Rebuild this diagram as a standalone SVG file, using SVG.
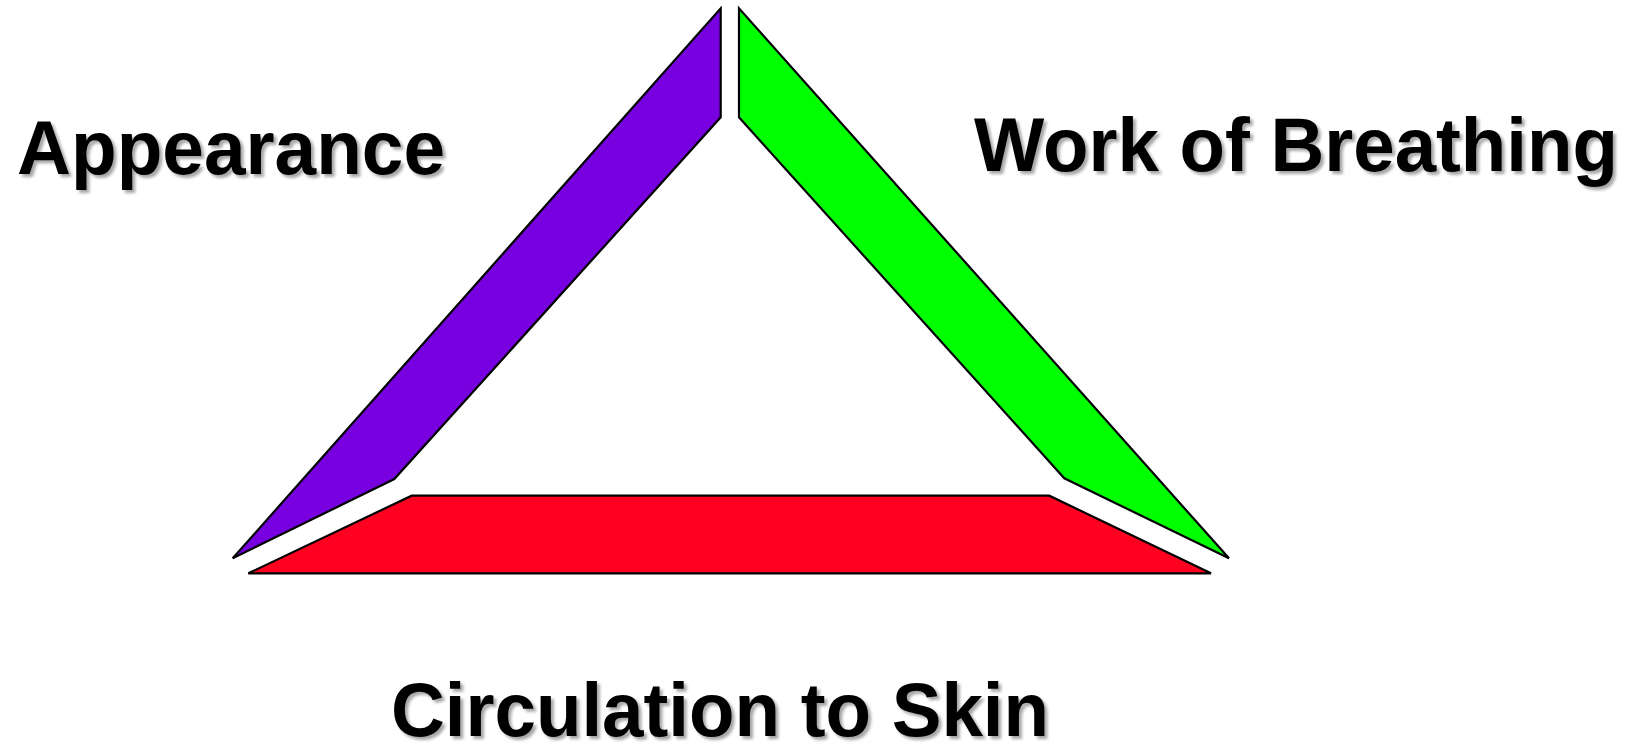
<svg xmlns="http://www.w3.org/2000/svg" width="1630" height="742" viewBox="0 0 1630 742">
<style>
.side{stroke:#000;stroke-width:2.2;stroke-linejoin:miter}
.lbl{font-family:"Liberation Sans",Arial,sans-serif;font-weight:bold;font-size:76px;fill:#000;filter:url(#sh)}
</style>
<defs>
<filter id="sh" x="-5%" y="-20%" width="110%" height="150%">
<feDropShadow dx="3" dy="3" stdDeviation="1.5" flood-color="#000" flood-opacity="0.35"/>
</filter>
</defs>
<rect width="1630" height="742" fill="#fff"/>
<g id="appearance">
<polygon class="side" fill="#7800E0" points="720.7,8.3 720.7,117.3 394.3,479 232.7,558.3"/>
<text class="lbl" x="17" y="174" textLength="428" lengthAdjust="spacingAndGlyphs">Appearance</text>
</g>
<g id="work-of-breathing">
<polygon class="side" fill="#00FF00" points="739,8.3 739,117.3 1064.3,478.3 1229,558.3"/>
<text class="lbl" x="974" y="171" textLength="644" lengthAdjust="spacingAndGlyphs">Work of Breathing</text>
</g>
<g id="circulation-to-skin">
<polygon class="side" fill="#FF0020" points="248.3,573.3 411.7,495.7 1049.3,495.7 1211,573.3"/>
<text class="lbl" x="391" y="735.5" textLength="658" lengthAdjust="spacingAndGlyphs">Circulation to Skin</text>
</g>
<g id="connectors"></g>
</svg>
